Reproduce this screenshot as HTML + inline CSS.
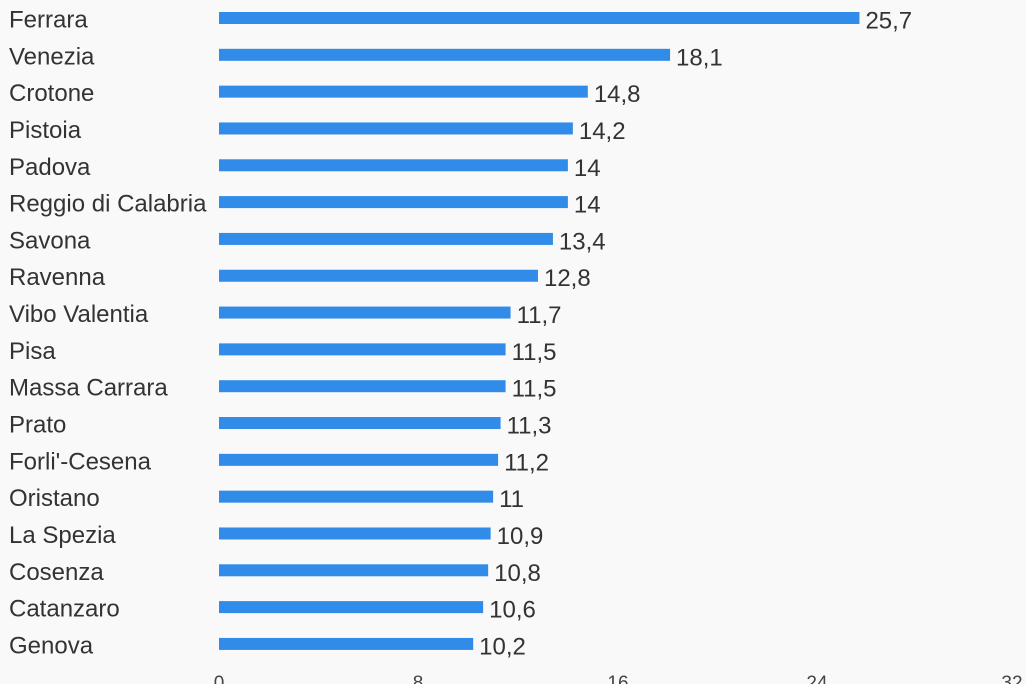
<!DOCTYPE html>
<html><head><style>
body{margin:0;background:#f9f9f9;}
svg{display:block;font-family:"Liberation Sans",sans-serif;}
</style></head><body>
<svg width="1026" height="684" xmlns="http://www.w3.org/2000/svg">
<rect width="1026" height="684" fill="#f9f9f9"/>
<g id="g" font-size="24" fill="#333"></g>
<g font-size="19" fill="#444" text-anchor="middle">
<text x="219" y="689">0</text><text x="418" y="689">8</text><text x="618" y="689">16</text><text x="817" y="689">24</text><text x="1012" y="689">32</text>
</g>
</svg>
<script>
const d=[["Ferrara",25.7],["Venezia",18.1],["Crotone",14.8],["Pistoia",14.2],["Padova",14],["Reggio di Calabria",14],["Savona",13.4],["Ravenna",12.8],["Vibo Valentia",11.7],["Pisa",11.5],["Massa Carrara",11.5],["Prato",11.3],["Forli'-Cesena",11.2],["Oristano",11],["La Spezia",10.9],["Cosenza",10.8],["Catanzaro",10.6],["Genova",10.2]];
let s="";d.forEach((r,i)=>{const c=18+i*36.82,w=r[1]*24.92;
s+=`<text x="9" y="${c+9.5}">${r[0]}</text><rect x="219" y="${c-6}" width="${w}" height="12" fill="#318be8"/><text x="${219+w+6}" y="${c+10.5}">${String(r[1]).replace('.',',')}</text>`;});
document.getElementById("g").innerHTML=s;
</script>
</body></html>
